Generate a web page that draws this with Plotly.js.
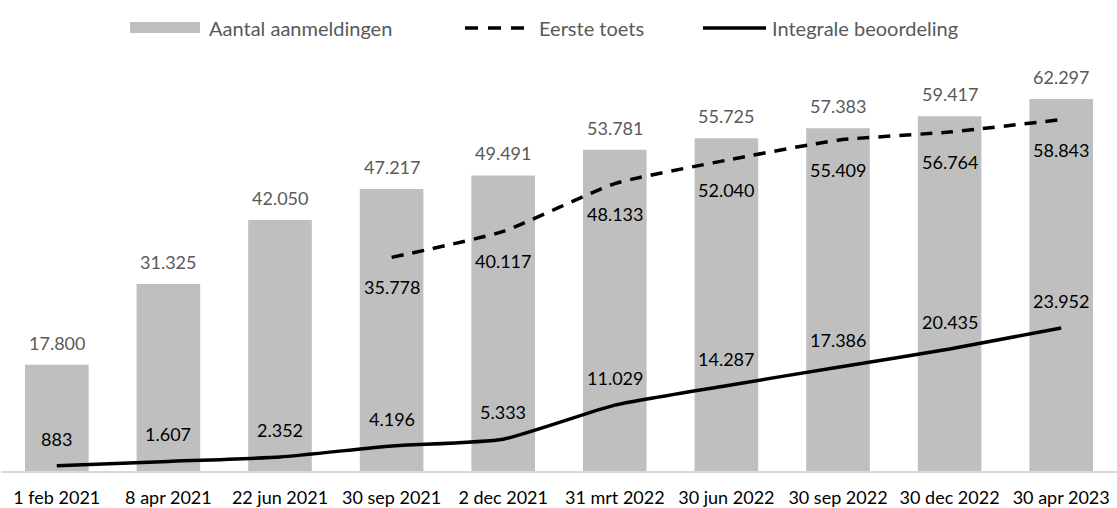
<!DOCTYPE html>
<html><head><meta charset="utf-8">
<script src="https://cdn.plot.ly/plotly-3.0.1.min.js"></script>
<style>body{margin:0}#c{width:1117px;height:508px}</style>
</head><body><div id="c"></div>
<script>
const categories = ["1 feb 2021","8 apr 2021","22 jun 2021","30 sep 2021","2 dec 2021","31 mrt 2022","30 jun 2022","30 sep 2022","30 dec 2022","30 apr 2023"];
const aanmeldingen = [17800,31325,42050,47217,49491,53781,55725,57383,59417,62297];
const eersteToets = [null,null,null,35778,40117,48133,52040,55409,56764,58843];
const integrale = [883,1607,2352,4196,5333,11029,14287,17386,20435,23952];
const seriesNames = ["Aantal aanmeldingen","Eerste toets","Integrale beoordeling"];

const fmt = v => v.toLocaleString('de-DE');
const FONT = "Lato, 'Open Sans', sans-serif";

const traces = [
  {type:'bar', name:seriesNames[0], x:categories, y:aanmeldingen,
   marker:{color:'#bfbfbf'}, hoverinfo:'skip'},
  {type:'scatter', mode:'lines', name:seriesNames[1], x:categories, y:eersteToets,
   line:{color:'#000', width:3.5, dash:'12px,9px', shape:'spline', smoothing:0.5}, connectgaps:false},
  {type:'scatter', mode:'lines', name:seriesNames[2], x:categories, y:integrale,
   line:{color:'#000', width:3.5, shape:'spline', smoothing:0.5}}
];

const ann = [];
categories.forEach((c,i)=>{
  ann.push({x:c, y:aanmeldingen[i], text:fmt(aanmeldingen[i]), showarrow:false, yshift:22,
    font:{family:FONT, size:18, color:'#595959'}});
  if (eersteToets[i]!==null) ann.push({x:c, y:eersteToets[i], text:fmt(eersteToets[i]), showarrow:false, yshift:-30,
    font:{family:FONT, size:18, color:'#000'}});
  ann.push({x:c, y:integrale[i], text:fmt(integrale[i]), showarrow:false, yshift:27,
    font:{family:FONT, size:18, color:'#000'}});
});

// custom legend (paper coordinates computed from pixel layout)
const M = {l:1, r:0, t:60, b:37}, W = 1117, H = 508;
const pw = W - M.l - M.r, ph = H - M.t - M.b;
const px = v => (v - M.l) / pw;
const py = v => (H - M.b - v) / ph;
const LY = 28;
const shapes = [
  {type:'rect', xref:'paper', yref:'paper', x0:px(130), x1:px(200), y0:py(LY-6), y1:py(LY+5),
   fillcolor:'#bfbfbf', line:{width:0}},
  {type:'line', xref:'paper', yref:'paper', x0:px(465), x1:px(530), y0:py(LY), y1:py(LY),
   line:{color:'#000', width:3.5, dash:'13px,10px'}},
  {type:'line', xref:'paper', yref:'paper', x0:px(703), x1:px(766), y0:py(LY), y1:py(LY),
   line:{color:'#000', width:3.5}}
];
[[207,seriesNames[0]],[537,seriesNames[1]],[770,seriesNames[2]]].forEach(([x,t])=>{
  ann.push({xref:'paper', yref:'paper', x:px(x), y:py(LY), xanchor:'left', yanchor:'middle',
    text:t, showarrow:false, font:{family:FONT, size:20, color:'#595959'}});
});

const layout = {
  width:W, height:H,
  margin:M,
  paper_bgcolor:'#fff', plot_bgcolor:'#fff',
  font:{family:FONT, size:18, color:'#000'},
  bargap:0.43,
  showlegend:false,
  xaxis:{type:'category', showgrid:false, showline:true, linecolor:'#d9d9d9', linewidth:1.5,
    ticks:'', ticklabelstandoff:10, tickfont:{family:FONT, size:18, color:'#000'}, fixedrange:true},
  yaxis:{range:[0,68830], visible:false, showgrid:false, zeroline:false, fixedrange:true},
  annotations:ann, shapes:shapes
};
Plotly.newPlot('c', traces, layout, {displayModeBar:false, staticPlot:true});
</script></body></html>
